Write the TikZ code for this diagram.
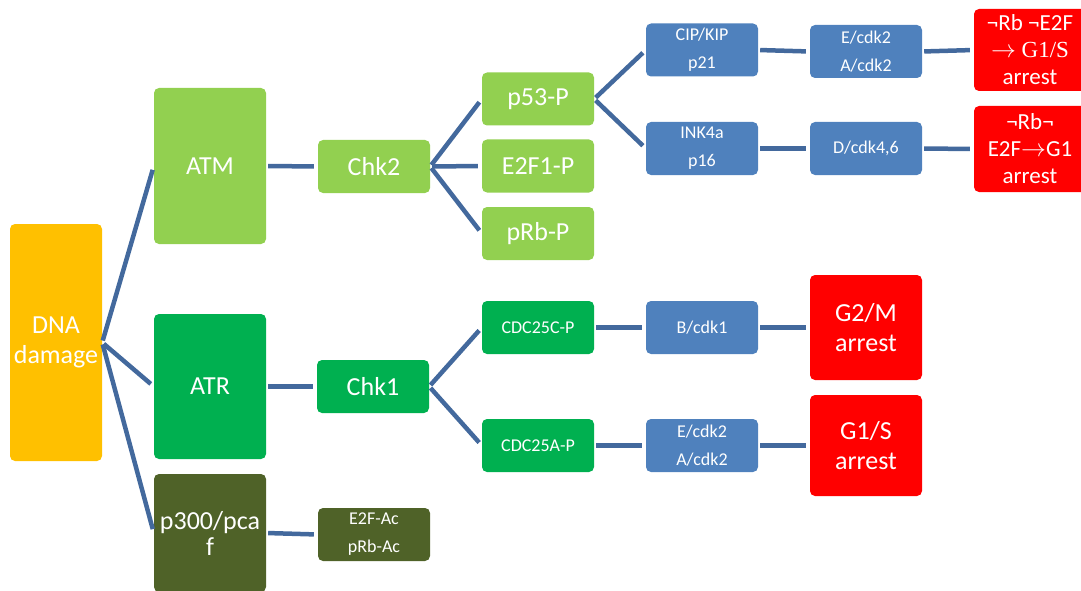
\documentclass[tikz,border=0pt]{standalone}
\usepackage{fontspec}
\setmainfont{Carlito}
\newfontfamily\seriffont{Liberation Serif}
\usepackage{xcolor}
\usetikzlibrary{positioning}
\definecolor{dnaorange}{HTML}{FFC000}
\definecolor{atmgreen}{HTML}{92D050}
\definecolor{atrgreen}{HTML}{00B050}
\definecolor{olive}{HTML}{4F6228}
\definecolor{cdkblue}{HTML}{4F81BD}
\definecolor{arrestred}{HTML}{FF0000}
\definecolor{linkblue}{HTML}{43699D}

\begin{document}
\begin{tikzpicture}[x=1pt, y=-1pt,
    box/.style={rectangle, rounded corners=5pt, text=white, align=center, inner sep=2pt,
      minimum width=112pt, minimum height=53pt, font=\fontsize{26}{30}\selectfont},
    small/.style={box, font=\fontsize{18}{28}\selectfont},
    link/.style={draw=linkblue, line width=4.5pt, shorten <=2pt, shorten >=4pt}]
    \useasboundingbox (0,0) rectangle (1081,591);
    \node[box, fill=dnaorange, minimum width=92pt, minimum height=237pt] (dna) at (56,342.5) {DNA\\damage};
    \node[box, fill=atmgreen, minimum height=156pt] (atm) at (210,166) {ATM};
    \node[box, fill=atrgreen, minimum height=145pt] (atr) at (210,386.5) {ATR};
    \node[box, fill=olive, minimum height=118pt, font=\fontsize{26}{26}\selectfont] (pcaf) at (210,533) {p300/pca\\f};
    \node[box, fill=atmgreen] (chk2) at (374,166.5) {Chk2};
    \node[box, fill=atrgreen] (chk1) at (373,386.5) {Chk1};
    \node[small, fill=olive] (ac) at (374,534.5) {E2F-Ac\\pRb-Ac};
    \node[box, fill=atmgreen] (p53) at (538,99) {p53-P};
    \node[box, fill=atmgreen] (e2f1) at (538,166) {E2F1-P};
    \node[box, fill=atmgreen] (prb) at (538,233.5) {pRb-P};
    \node[small, fill=atrgreen] (c25c) at (538,327.5) {CDC25C-P};
    \node[small, fill=atrgreen] (c25a) at (538,445.5) {CDC25A-P};
    \node[small, fill=cdkblue] (p21) at (702,50) {CIP/KIP\\p21};
    \node[small, fill=cdkblue] (p16) at (702,148.5) {INK4a\\p16};
    \node[small, fill=cdkblue] (ecdk) at (866,51.5) {E/cdk2\\A/cdk2};
    \node[small, fill=cdkblue] (dcdk) at (866,148.5) {D/cdk4,6};
    \node[small, fill=cdkblue] (bcdk) at (702,327.5) {B/cdk1};
    \node[small, fill=cdkblue] (acdk) at (702,445.5) {E/cdk2\\A/cdk2};
    \node[box, fill=arrestred, minimum height=82pt, font=\fontsize{23}{27}\selectfont] (g1s1) at (1030,50)
      {¬Rb ¬E2F\\{\seriffont$\rightarrow$ G1/S}\\arrest};
    \node[box, fill=arrestred, minimum height=86pt, font=\fontsize{23}{27}\selectfont] (g1) at (1030,149)
      {¬Rb¬\\E2F$\rightarrow$G1\\arrest};
    \node[box, fill=arrestred, minimum height=105pt, font=\fontsize{26}{30}\selectfont] (g2m) at (866,327.5) {G2/M\\arrest};
    \node[box, fill=arrestred, minimum height=101pt, font=\fontsize{26}{30}\selectfont] (g1s2) at (866,445.5) {G1/S\\arrest};
    \path[link] (dna.east) edge (atm.west)
          (dna.east) edge (atr.west)
          (dna.east) edge (pcaf.west)
          (atm) edge (chk2)
          (atr) edge (chk1)
          (pcaf.east) edge (ac.west)
          (chk2.east) edge (p53.west)
          (chk2.east) edge (e2f1.west)
          (chk2.east) edge (prb.west)
          (chk1.east) edge (c25c.west)
          (chk1.east) edge (c25a.west)
          (p53.east) edge (p21.west)
          (p53.east) edge (p16.west)
          (p21.east) edge (ecdk.west)
          (p16) edge (dcdk)
          (ecdk.east) edge (g1s1.west)
          (dcdk) edge (g1)
          (c25c) edge (bcdk)
          (bcdk) edge (g2m)
          (c25a) edge (acdk)
          (acdk) edge (g1s2);
\end{tikzpicture}
\end{document}
